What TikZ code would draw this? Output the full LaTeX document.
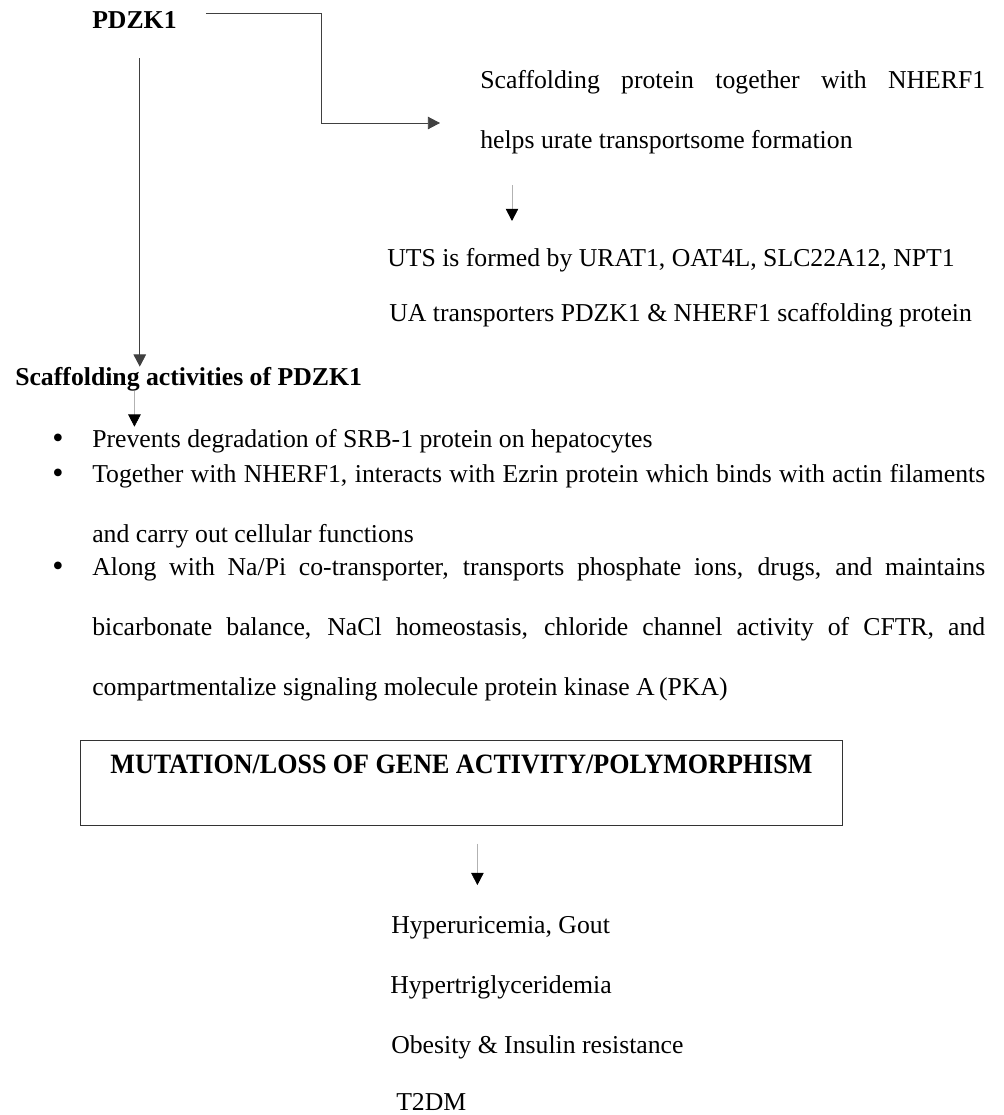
\documentclass[tikz,border=0pt]{standalone}
\usepackage{fontspec}
\setmainfont{Liberation Serif}
\newfontfamily\narrowbold[FakeStretch=0.93]{Liberation Serif}
\usetikzlibrary{arrows.meta,positioning}

\begin{document}
\begin{tikzpicture}[x=0.75pt, y=-0.75pt,
    font=\fontsize{19.3}{45}\selectfont,
    txt/.style={anchor=base west, inner sep=0pt},
    head/.style={txt, font=\fontsize{19.3}{23}\selectfont\bfseries},
    para/.style={txt, align=justify, text width=#1},
    dot/.style={txt, font=\fontsize{24}{24}\selectfont},
    link/.style={-{Triangle[length=3.2mm,width=3.3mm]}, draw=black!75, line width=0.6pt},
    faint/.style={-{Triangle[length=3.2mm,width=3.3mm,color=black]}, draw=black!30, line width=0.45pt},
    outcome/.style={draw=black!80, line width=0.6pt, anchor=north west, inner sep=0pt,
                    minimum width=571.5pt, text height=24.5pt, text depth=39.2pt,
                    font=\narrowbold\fontsize{21}{25}\selectfont\bfseries}
]
\useasboundingbox (0,0) rectangle (1004,1115);

% top: PDZK1 and urate transportsome
\node[head] (pdzk) at (92,28) {PDZK1};
\node[para=378.75pt] (scaf) at (480,88)
    {Scaffolding protein together with NHERF1\linebreak helps urate transportsome formation};
\node[txt] (uts) at (387,266) {UTS is formed by URAT1, OAT4L, SLC22A12, NPT1};
\node[txt] (ua) at (389,321) {UA transporters PDZK1 \& NHERF1 scaffolding protein};

\coordinate (turn) at (321,123);
\coordinate (scafin) at (440,123);
\draw[link] ([xshift=21.75pt,yshift=-2pt]pdzk.north east) -| (turn) -- (scafin);
\draw[faint, shorten <=23.5pt, shorten >=20pt] ([xshift=24pt]scaf.south west) -- ([xshift=24pt]scaf.south west |- uts.north);

% scaffolding activities
\node[head] (act) at (15,385) {Scaffolding activities of PDZK1};
\draw[link, shorten <=22.5pt] ([xshift=4pt]pdzk.south) -- ([xshift=4pt]pdzk.south |- act.north);

\node[dot] (b1) at (52,448) {\textbullet};
\node[para=669.75pt] (item1) at (92,447) {Prevents degradation of SRB-1 protein on hepatocytes};
\node[dot] (b2) at (52,483) {\textbullet};
\node[para=669.75pt] (item2) at (92,482)
    {Together with NHERF1, interacts with Ezrin protein which binds with actin filaments\linebreak and carry out cellular functions};
\node[dot] (b3) at (52,576) {\textbullet};
\node[para=669.75pt] (item3) at (92,575)
    {Along with Na/Pi co-transporter, transports phosphate ions, drugs, and maintains\linebreak bicarbonate balance, NaCl homeostasis, chloride channel activity of CFTR, and\linebreak compartmentalize signaling molecule protein kinase A\,(PKA)};
\draw[faint, shorten >=1.5pt] (act.south -| pdzk.south) -- (item1.north -| pdzk.south);

% consequences
\node[outcome] (mut) at (80,740) {MUTATION/LOSS OF GENE ACTIVITY/POLYMORPHISM};
\node[txt] (hyp) at (391,933) {Hyperuricemia, Gout};
\node[txt] (htg) at (390,993) {Hypertriglyceridemia};
\node[txt] (obe) at (391,1053) {Obesity \& Insulin resistance};
\node[txt] (t2d) at (396,1110) {T2DM};
\draw[faint, shorten <=13.5pt, shorten >=23pt] ([xshift=12pt]mut.south) -- ([xshift=12pt]mut.south |- hyp.north);
\end{tikzpicture}
\end{document}
